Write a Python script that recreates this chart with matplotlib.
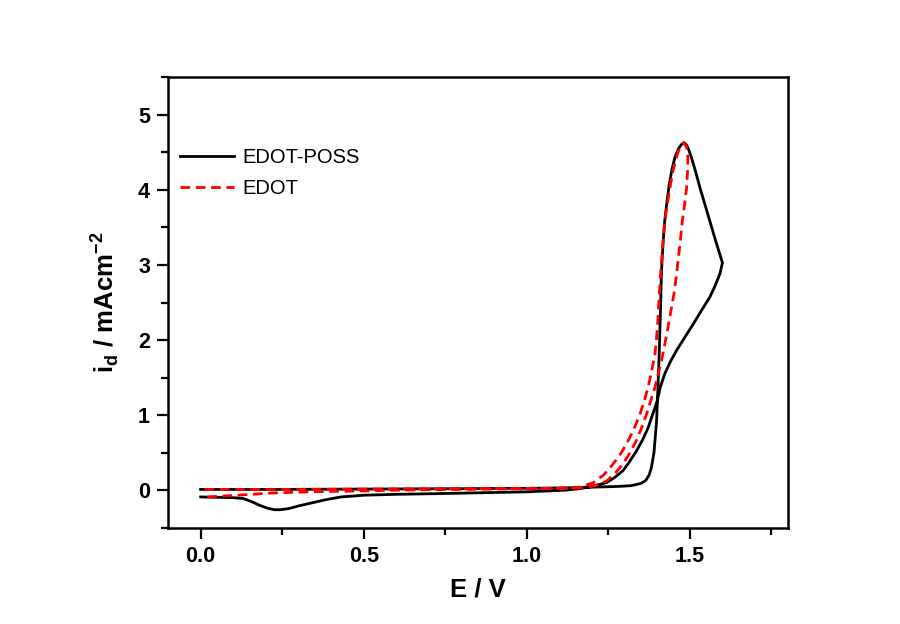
import matplotlib.pyplot as plt

plt.rcParams['font.family'] = ['Liberation Sans', 'DejaVu Sans']
plt.rcParams['mathtext.fontset'] = 'custom'
plt.rcParams['mathtext.rm'] = 'Liberation Sans'
plt.rcParams['mathtext.bf'] = 'Liberation Sans:bold'

# EDOT-POSS: forward scan 0 -> 1.6 V, then back to 0 V
poss_e = [0.0, 0.2, 0.5, 0.8, 1.0, 1.1, 1.2, 1.28, 1.32, 1.35, 1.365, 1.375,
          1.382, 1.39, 1.398, 1.402, 1.406, 1.41, 1.413, 1.418, 1.423, 1.43,
          1.437, 1.445, 1.454, 1.465, 1.475, 1.482, 1.49, 1.497, 1.505, 1.518,
          1.531, 1.546, 1.561, 1.58, 1.60,
          1.592, 1.575, 1.561, 1.535, 1.510, 1.485, 1.459, 1.44, 1.423, 1.41,
          1.40, 1.386, 1.372, 1.355, 1.336, 1.315, 1.295, 1.27, 1.244, 1.2,
          1.163, 1.117, 1.0, 0.85, 0.735, 0.6, 0.5, 0.43, 0.38, 0.34, 0.3,
          0.27, 0.245, 0.226, 0.205, 0.18, 0.155, 0.13, 0.1, 0.05, 0.0]
poss_i = [0.01, 0.01, 0.015, 0.02, 0.025, 0.03, 0.04, 0.05, 0.06, 0.09, 0.13, 0.2,
          0.30, 0.5, 0.92, 1.35, 1.81, 2.4, 2.92, 3.3, 3.59, 3.85,
          4.08, 4.27, 4.43, 4.55, 4.61, 4.63, 4.60, 4.53, 4.43, 4.24,
          4.03, 3.81, 3.59, 3.31, 3.03,
          2.88, 2.70, 2.57, 2.39, 2.21, 2.04, 1.86, 1.71, 1.55, 1.38,
          1.19, 1.01, 0.83, 0.67, 0.52, 0.38, 0.26, 0.17, 0.10, 0.05,
          0.02, 0.0, -0.022, -0.035, -0.045, -0.055, -0.067, -0.09, -0.13, -0.17, -0.21,
          -0.245, -0.26, -0.26, -0.24, -0.2, -0.15, -0.11, -0.1, -0.095, -0.09]

# EDOT: forward scan 0 -> ~1.5 V, then back to 0 V
edot_e = [0.02, 0.1, 0.226, 0.35, 0.5, 0.6, 0.735, 0.9, 1.05, 1.13, 1.183,
          1.215, 1.244, 1.27, 1.295, 1.315, 1.336, 1.352, 1.367, 1.38, 1.393,
          1.403, 1.413, 1.423, 1.433, 1.442, 1.451, 1.458, 1.464, 1.471,
          1.477, 1.484, 1.49, 1.493, 1.494, 1.49, 1.482,
          1.47, 1.46, 1.448, 1.439, 1.431, 1.423, 1.417, 1.411, 1.406,
          1.402, 1.398, 1.393, 1.383, 1.372, 1.36, 1.347, 1.33, 1.311, 1.29,
          1.265, 1.235, 1.204, 1.163, 1.1, 0.9, 0.6, 0.3, 0.0]
edot_i = [-0.09, -0.07, -0.036, -0.02, -0.01, 0.0, 0.01, 0.015, 0.02, 0.025, 0.035,
          0.07, 0.12, 0.22, 0.35, 0.49, 0.66, 0.83, 1.01, 1.19, 1.37,
          1.55, 1.72, 1.94, 2.17, 2.39, 2.61, 2.83, 3.06, 3.33,
          3.59, 3.81, 4.03, 4.25, 4.43, 4.57, 4.63,
          4.58, 4.45, 4.25, 4.03, 3.81, 3.59, 3.26, 2.92, 2.59,
          2.26, 2.03, 1.81, 1.59, 1.37, 1.19, 1.01, 0.83, 0.66, 0.5,
          0.35, 0.2, 0.10, 0.04, 0.025, 0.02, 0.015, 0.01, 0.01]

fig = plt.figure(figsize=(9, 6.24), dpi=100)
ax = fig.add_axes([0.1867, 0.1543, 0.6885, 0.7217])

ax.plot(poss_e, poss_i, color='black', lw=2.0, label='EDOT-POSS')
ax.plot(edot_e, edot_i, color='red', lw=2.0, ls=(0, (3.5, 2)), label='EDOT')

ax.set_xlim(-0.1, 1.8)
ax.set_ylim(-0.5, 5.5)
ax.set_xticks([0.0, 0.5, 1.0, 1.5])
ax.set_xticks([0.25, 0.75, 1.25, 1.75], minor=True)
ax.set_yticks([0, 1, 2, 3, 4, 5])
ax.set_yticks([-0.5, 0.5, 1.5, 2.5, 3.5, 4.5, 5.5], minor=True)
ax.set_xticklabels(['0.0', '0.5', '1.0', '1.5'])

for s in ax.spines.values():
    s.set_linewidth(1.8)
ax.tick_params(which='major', direction='out', length=8, width=1.6,
               labelsize=15.5, pad=5)
ax.tick_params(which='minor', direction='out', length=5, width=1.6)
for lab in ax.get_xticklabels() + ax.get_yticklabels():
    lab.set_fontweight('bold')

ax.set_xlabel('E / V', fontsize=18.5, fontweight='bold', labelpad=8)
ax.set_ylabel(r'i$_\mathbf{d}$ / mAcm$^\mathbf{-2}$', fontsize=18.5,
              fontweight='bold', labelpad=12)

ax.legend(loc='upper left', bbox_to_anchor=(0.0, 0.87), frameon=False,
          fontsize=14.5, handlelength=2.7, handletextpad=0.4,
          labelspacing=0.6, borderaxespad=0.2)

fig.savefig('out.png', dpi=100)
